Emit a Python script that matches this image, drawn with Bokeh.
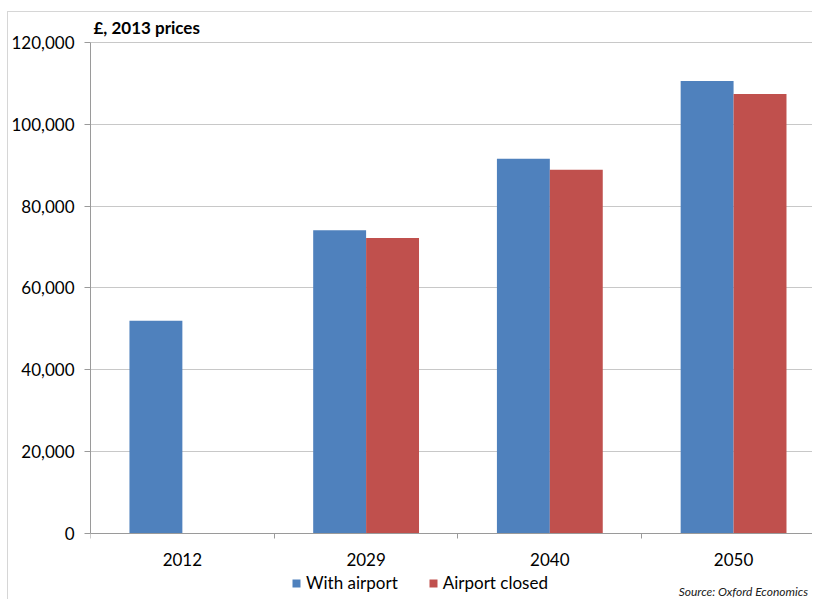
import numpy as np
from bokeh.plotting import figure
from bokeh.models import (FixedTicker, NumeralTickFormatter, Legend, LegendItem,
                          Range1d, ColumnDataSource, Label)
from bokeh.embed import file_html
from bokeh.resources import INLINE

# ---- data ----
years = ["2012", "2029", "2040", "2050"]
with_airport = [52000, 74100, 91600, 110600]
airport_closed = [float("nan"), 72200, 88900, 107400]
y_ticks = [0, 20000, 40000, 60000, 80000, 100000, 120000]
title_text = "£, 2013 prices"
source_text = "Source: Oxford Economics"

BLUE = "#4F81BD"
RED = "#C0504D"
GRID = "#C8C8C8"
AXIS = "#9A9A9A"
FONT = "Lato"

bar_w = 0.288
centers = np.arange(len(years)) + 0.5

# frame spans below the axis so that legend/source/title can live inside it
p = figure(width=805, height=588, output_backend="svg", toolbar_location=None,
           x_range=Range1d(0, 3.935), y_range=Range1d(-16375, 127332),
           min_border_left=81, min_border_top=0, min_border_bottom=0, min_border_right=0)
p.margin = (11, 0, 0, 7)
p.styles = {"border-top": "1px solid #D6D6D6", "border-left": "1px solid #D6D6D6"}
p.outline_line_color = None
p.background_fill_color = "white"
p.border_fill_color = "white"

src = ColumnDataSource(dict(
    xb=centers - bar_w / 2, xr=centers + bar_w / 2,
    wa=with_airport, ac=airport_closed))
rb = p.vbar(x="xb", top="wa", width=bar_w, source=src, fill_color=BLUE, line_color=None)
rr = p.vbar(x="xr", top="ac", width=bar_w, source=src, fill_color=RED, line_color=None)

# y axis
p.yaxis.ticker = FixedTicker(ticks=y_ticks)
p.yaxis.bounds = (0, 120000)
p.yaxis.formatter = NumeralTickFormatter(format="0,0")
p.yaxis.axis_line_color = AXIS
p.yaxis.major_tick_line_color = AXIS
p.yaxis.major_tick_out = 6
p.yaxis.major_tick_in = 0
p.yaxis.minor_tick_line_color = None
p.yaxis.major_label_standoff = 10
p.yaxis.major_label_text_font = FONT
p.yaxis.major_label_text_font_size = "17px"
p.yaxis.major_label_text_color = "#000000"

# x axis, pinned at y = 0
p.xaxis.fixed_location = 0
p.xaxis.ticker = FixedTicker(ticks=list(centers), minor_ticks=[0, 1, 2, 3, 4])
p.xaxis.major_label_overrides = {float(c): y for c, y in zip(centers, years)}
p.xaxis.axis_line_color = AXIS
p.xaxis.major_tick_line_color = None
p.xaxis.major_tick_out = 0
p.xaxis.major_tick_in = 0
p.xaxis.minor_tick_line_color = AXIS
p.xaxis.minor_tick_out = 5
p.xaxis.minor_tick_in = 0
p.xaxis.major_label_standoff = 15
p.xaxis.major_label_text_font = FONT
p.xaxis.major_label_text_font_size = "17px"
p.xaxis.major_label_text_color = "#000000"

p.xgrid.grid_line_color = None
p.ygrid.ticker = FixedTicker(ticks=y_ticks)
p.ygrid.grid_line_color = GRID

p.add_layout(Label(x=0.016, y=123665, text=title_text, text_font=FONT,
                   text_font_size="17px", text_font_style="bold", text_color="#000000",
                   text_baseline="middle"))
p.add_layout(Label(x=3.905, y=-14297, text=source_text, text_font=FONT,
                   text_font_size="12px", text_font_style="italic", text_color="#202020",
                   text_align="right", text_baseline="middle"))

legend = Legend(items=[LegendItem(label="With airport", renderers=[rb]),
                       LegendItem(label="Airport closed", renderers=[rr])],
                orientation="horizontal", location=(201, 7),
                glyph_width=10, glyph_height=10, label_height=10,
                label_standoff=5, spacing=30, padding=0, margin=0,
                border_line_color=None, background_fill_alpha=0,
                label_text_font=FONT, label_text_font_size="17px",
                label_text_color="#000000")
p.add_layout(legend, "center")

open("out.html", "w").write(file_html(p, INLINE))
